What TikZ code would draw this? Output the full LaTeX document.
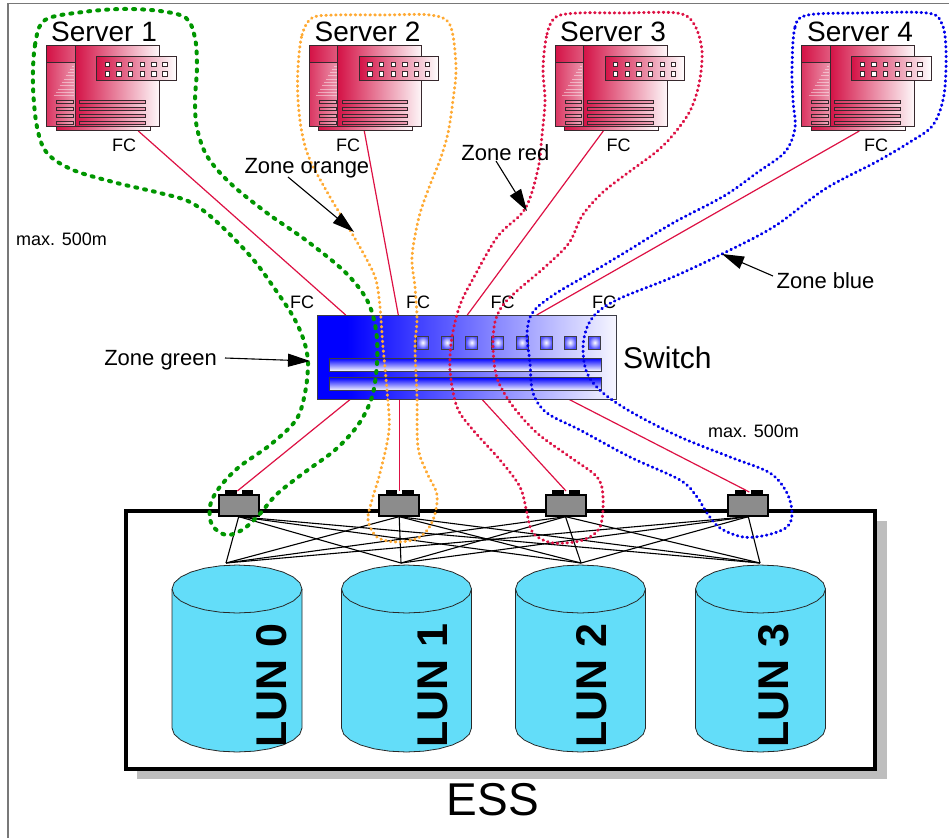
\documentclass[tikz,border=0pt]{standalone}
\usepackage{fontspec}
\setmainfont{Liberation Sans}
\usetikzlibrary{arrows.meta,calc}

\definecolor{srvred}{RGB}{212,18,70}
\definecolor{srvedge}{RGB}{55,40,45}
\definecolor{fcred}{RGB}{221,17,68}
\definecolor{zgreen}{RGB}{0,150,0}
\definecolor{zorange}{RGB}{255,170,51}
\definecolor{zred}{RGB}{221,17,68}
\definecolor{zblue}{RGB}{0,0,235}
\definecolor{luncyan}{RGB}{99,221,249}
\definecolor{cyledge}{RGB}{40,40,40}
\definecolor{swlight}{RGB}{246,246,255}
\definecolor{swedge}{RGB}{60,60,70}
\definecolor{portgray}{RGB}{140,140,140}
\definecolor{shadowgray}{RGB}{190,190,190}
\definecolor{framegray}{RGB}{120,120,120}

\pgfdeclarehorizontalshading{switchshade}{100bp}{color(0bp)=(blue); color(25bp)=(blue); color(30bp)=(blue); color(75bp)=(swlight); color(100bp)=(swlight)}

\tikzset{
  srvlbl/.style={font=\fontsize{28}{32}\selectfont, inner sep=0, anchor=base},
  fclbl/.style={font=\fontsize{18}{20}\selectfont, inner sep=0, anchor=base},
  smalllbl/.style={font=\fontsize{18}{20}\selectfont, inner sep=0, anchor=base west},
  zonelbl/.style={font=\fontsize{22}{24}\selectfont, inner sep=0},
  lunlbl/.style={font=\fontsize{43}{48}\selectfont\bfseries, inner sep=0, rotate=90, anchor=west},
  fcline/.style={fcred, line width=1.2pt},
  meshline/.style={black, line width=1.1pt},
  zonearrow/.style={black, line width=1.1pt, -{Triangle[length=22pt,width=13pt]}},
  zonegreen/.style={zgreen, line width=4pt, line cap=round, dash pattern=on 2pt off 7pt},
  zonedot/.style={line width=3pt, line cap=round, dash pattern=on 0.6pt off 4.3pt},
  portbox/.style={draw=black, line width=2pt, fill=portgray, minimum width=40pt, minimum height=20.7pt, inner sep=0},
  swport/.style={draw=swedge, line width=0.9pt, inner color=white, outer color=blue!70},
  swbar/.style={draw=swedge, line width=0.9pt, top color=blue, bottom color=white},
  server/.pic={
    % base plate
    \draw[srvedge, line width=0.8pt, left color=srvred, right color=white] (9.3,81.7) rectangle (103.3,85.7);
    % cabinet front
    \draw[srvedge, line width=1pt, left color=srvred, right color=srvred!3] (28.3,0) rectangle (112.6,81.7);
    % drive column
    \draw[srvedge, line width=1pt, left color=srvred!85, right color=srvred!45] (0,17) rectangle (28.3,81.7);
    \draw[srvedge, line width=1pt, left color=srvred, middle color=srvred!12, right color=srvred!70] (0,0) rectangle (28.3,17);
    \foreach \i in {0,...,9}
      \draw[white, opacity=0.45, line width=0.9pt] ({25-2*\i},{21+3.3*\i}) -- (27.3,{21+3.3*\i});
    % vent slots
    \foreach \y in {56.7,63.7,71,77.7} {
      \draw[srvedge, line width=0.7pt, left color=srvred!70, right color=srvred!35] (10,{\y-1.7}) rectangle (26.6,{\y+1.7});
      \draw[srvedge, line width=0.7pt, left color=srvred!85, right color=srvred!40] (32.6,{\y-1.7}) rectangle (98.3,{\y+1.7});
    }
    % connector panel
    \draw[srvedge, line width=1pt, left color=srvred, right color=white] (50,11) rectangle (129.3,35.7);
    \foreach \x in {58.3,70,81.7,93.3,105,116}
      \foreach \y in {17.3,26.7}
        \draw[srvedge, line width=0.8pt, fill=white] (\x,\y) rectangle ++(4.3,4.3);
  }
}

\begin{document}
\begin{tikzpicture}[x=1pt,y=-1pt]
\useasboundingbox (0,0) rectangle (949,838);
\fill[white] (0,0) rectangle (949,838);
\draw[framegray, line width=1.2pt] (8,838) -- (8,3.5) -- (949,3.5);

% ---------- storage subsystem ----------
\fill[shadowgray] (137,521) rectangle (887,779);
\node[draw, line width=4pt, fill=white, minimum width=749pt, minimum height=258pt, inner sep=0, anchor=north west] (ess) at (124,509) {};
\node[font=\fontsize{46}{50}\selectfont, inner sep=0, anchor=base] (esslbl) at (493,815) {ESS};

% LUN top contact points
\coordinate (l0) at (226,563);
\coordinate (l1) at (401,563);
\coordinate (l2) at (581,563);
\coordinate (l3) at (760,563);

% host adapter ports
\node[portbox] (p1) at (238.7,505.3) {};
\node[portbox] (p2) at (399.2,505.3) {};
\node[portbox] (p3) at (565.5,505.3) {};
\node[portbox] (p4) at (748.3,505.3) {};

% full mesh between ports and LUNs
\foreach \p in {p1,p2,p3,p4}
  \foreach \l in {l0,l1,l2,l3}
    \draw[meshline] (\p.south) -- (\l);

% disk cylinders
\foreach \cx/\tx/\n in {237/271.7/0, 406.5/433/1, 580.5/592/2, 760.5/774/3} {
  \path[fill=luncyan, draw=cyledge, line width=0.8pt]
    plot[domain=180:0, samples=13] ({\cx+65*cos(\x)},{728+24*sin(\x)})
    -- plot[domain=0:-180, samples=13] ({\cx+65*cos(\x)},{589+24*sin(\x)}) -- cycle;
  \draw[cyledge, line width=0.8pt] plot[domain=0:180, samples=13] ({\cx+65*cos(\x)},{589+24*sin(\x)});
  \node[lunlbl] (lun\n) at (\tx,748) {LUN \n};
}

% port tabs (drawn over the mesh)
\foreach \p in {p1,p2,p3,p4} {
  \fill[black] ($(\p.north)+(-13.7,-4.3)$) rectangle ($(\p.north)+(-2,0)$);
  \fill[black] ($(\p.north)+(3,-4.3)$) rectangle ($(\p.north)+(14.6,0)$);
}

% ---------- fibre channel links ----------
\coordinate (s1fc) at (138.3,131);
\coordinate (s2fc) at (364.3,131);
\coordinate (s3fc) at (603.3,131);
\coordinate (s4fc) at (859.3,131);
\coordinate (swin1) at (345.7,315);
\coordinate (swin2) at (398.3,315);
\coordinate (swin3) at (467.3,315);
\coordinate (swin4) at (536.7,315);
\coordinate (swout1) at (350.7,399);
\coordinate (swout2) at (399.3,399);
\coordinate (swout3) at (481.7,399);
\coordinate (swout4) at (568.3,399);
\coordinate (p1in) at (237.3,491);
\coordinate (p2in) at (399.3,491);
\coordinate (p3in) at (566,491);
\coordinate (p4in) at (749.3,492);

\foreach \i in {1,2,3,4} {
  \draw[fcline] (s\i fc) -- (swin\i);
  \draw[fcline] (swout\i) -- (p\i in);
}

% ---------- switch ----------
\node[draw=swedge, line width=1pt, shade, shading=switchshade, minimum width=298.7pt, minimum height=84pt, inner sep=0] (sw) at (466.7,357) {};
\foreach \x in {416.7,441,465.7,491.7,516,540,564,588.7}
  \draw[swport] (\x,336) rectangle ++(12,13);
\draw[swbar] (329.3,358.3) rectangle (601.7,371);
\draw[swbar] (329.3,377.7) rectangle (601.7,390.7);
\node[font=\fontsize{30}{34}\selectfont, inner sep=0, anchor=base west] (swlbl) at (623,368) {Switch};

% ---------- servers ----------
\pic (srv1) at (46.7,45) {server};
\pic (srv2) at (309.3,45) {server};
\pic (srv3) at (555,45) {server};
\pic (srv4) at (801.7,45) {server};
\node[srvlbl] (s1lbl) at (104,41.5) {Server 1};
\node[srvlbl] (s2lbl) at (367.5,41.5) {Server 2};
\node[srvlbl] (s3lbl) at (613,41.5) {Server 3};
\node[srvlbl] (s4lbl) at (860,41.5) {Server 4};

% FC labels
\node[fclbl] (fcs1) at (124,151.5) {FC};
\node[fclbl] (fcs2) at (348,151.5) {FC};
\node[fclbl] (fcs3) at (618.7,151.5) {FC};
\node[fclbl] (fcs4) at (876,151.5) {FC};
\node[fclbl] (fcw1) at (302,308.3) {FC};
\node[fclbl] (fcw2) at (418,308.3) {FC};
\node[fclbl] (fcw3) at (502.5,308.3) {FC};
\node[fclbl] (fcw4) at (604,308.3) {FC};

\node[smalllbl] (dist1) at (16,245) {max. 500m};
\node[smalllbl] (dist2) at (708,437) {max. 500m};

% ---------- zones ----------
\draw[zonegreen] plot[smooth cycle, tension=0.55] coordinates {
  (33,85) (35,45) (45,20) (83,12) (123,9) (160,11) (186,18) (195,38) (197,67) (195,100)
  (197,128) (207,156) (230,183) (267,213) (307,241) (345,272) (367,300) (376,330)
  (377,363) (372,397) (358,425) (335,450) (305,472) (277,494) (258,516) (242,530)
  (226,535) (212,525) (210,506) (219,488) (239,467) (270,445) (296,420) (305,393)
  (308,363) (304,341) (294,318) (277,292) (252,258) (217,222) (190,202) (160,193)
  (117,183) (73,170) (47,153) (37,127)};

\draw[zonedot, zorange] plot[smooth cycle, tension=0.55] coordinates {
  (298,67) (302,35) (312,18) (335,15) (383,15) (430,15) (450,25) (456,67) (453,100)
  (448,133) (440,160) (430,185) (419,217) (412,257) (415,287) (417,320) (415,347)
  (417,397) (418,447) (427,473) (437,495) (433,520) (420,537) (397,542) (377,537)
  (368,520) (372,500) (380,473) (389,430) (387,390) (383,347) (380,307) (376,280)
  (367,260) (350,230) (330,197) (310,160) (302,133) (298,100)};

\draw[zonedot, zred] plot[smooth cycle, tension=0.55] coordinates {
  (543,68) (547,34) (556,17) (579,13) (623,13) (677,13) (694,24) (702,51) (699,84)
  (690,111) (673,135) (656,152) (629,172) (602,193) (582,216) (569,243) (545,267)
  (518,290) (503,305) (495,322) (493,347) (497,378) (512,405) (537,433) (570,457)
  (597,477) (603,497) (600,527) (583,540) (553,543) (533,533) (527,513) (520,487)
  (500,460) (473,430) (457,407) (450,370) (452,337) (460,305) (474,277) (498,236)
  (525,209) (538,169) (542,135) (545,101)};

\draw[zonedot, zblue] plot[smooth cycle, tension=0.55] coordinates {
  (792,68) (795,27) (808,15) (859,13) (927,13) (942,24) (946,51) (944,95) (933,125)
  (910,142) (876,162) (825,189) (775,226) (724,253) (673,277) (623,297) (600,310)
  (588,325) (583,347) (587,373) (603,393) (633,413) (680,437) (730,457) (770,473)
  (787,493) (792,513) (787,527) (767,535) (743,537) (720,528) (707,513) (697,497)
  (680,480) (630,457) (580,430) (547,413) (533,393) (530,363) (527,333) (533,312)
  (555,294) (589,274) (629,250) (673,223) (724,196) (758,172) (785,152) (795,128)
  (793,101)};

% zone labels with pointers
\node[zonelbl, anchor=base west] (zorange) at (244.3,173.3) {Zone orange};
\node[zonelbl, anchor=base west] (zred) at (461.2,160.5) {Zone red};
\node[zonelbl, anchor=base west] (zblue) at (776.4,288.9) {Zone blue};
\node[zonelbl, anchor=base east] (zgreen) at (217,365) {Zone green};

\coordinate (zotail) at (288,177);  \coordinate (zotip) at (354,232);
\coordinate (zrtail) at (496,161);  \coordinate (zrtip) at (527,211);
\coordinate (zbtail) at (773,276);  \coordinate (zbtip) at (722,254);
\coordinate (zgtail) at (225,358);  \coordinate (zgtip) at (310,361);
\draw[zonearrow] (zotail) -- (zotip);
\draw[zonearrow] (zrtail) -- (zrtip);
\draw[zonearrow] (zbtail) -- (zbtip);
\draw[zonearrow] (zgtail) -- (zgtip);
\end{tikzpicture}
\end{document}
